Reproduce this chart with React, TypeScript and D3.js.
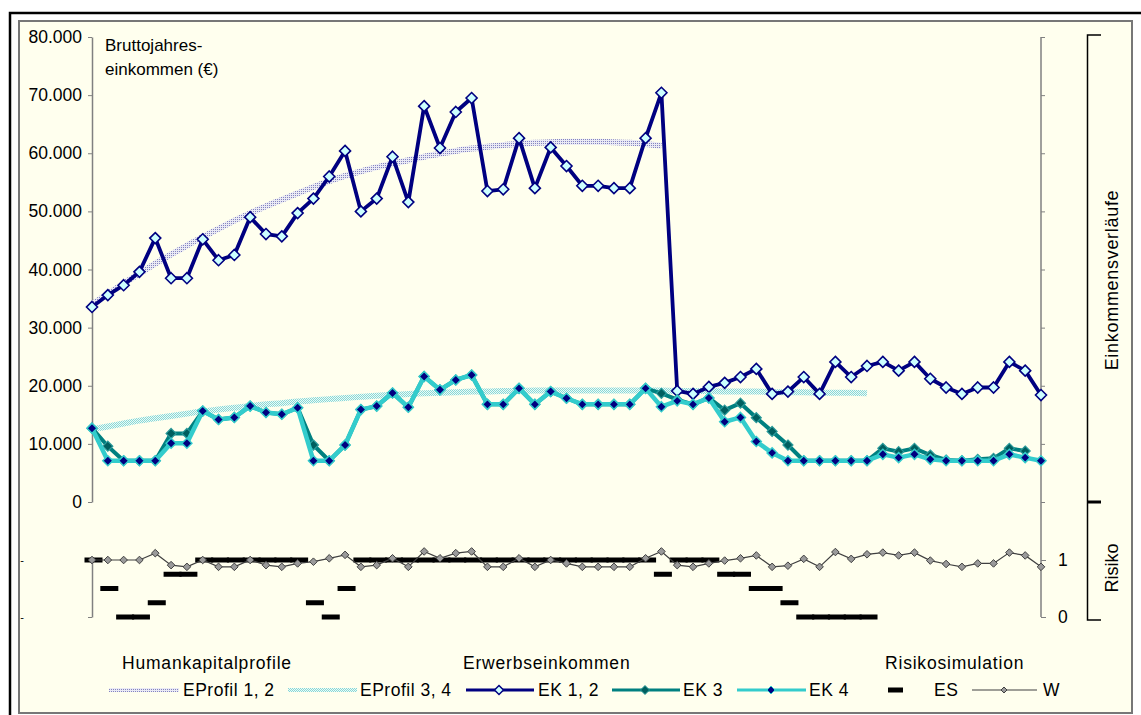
import React, { useEffect, useRef } from 'react';
import * as d3 from 'd3';

// years on the x axis
const years = d3.range(2000, 2061);

// Erwerbseinkommen (€)
const ek12 = [
  33550, 35600, 37300, 39600, 45400, 38500, 38500, 45200, 41600, 42500,
  49000, 46100, 45700, 49700, 52200, 56000, 60400, 50000, 52200, 59400,
  51600, 68100, 60900, 67100, 69500, 53500, 53800, 62600, 54000, 61000,
  57800, 54400, 54400, 54000, 54000, 62600, 70400, 19100, 18600, 19800,
  20500, 21500, 22900, 18600, 19000, 21500, 18600, 24100, 21500, 23400,
  24100, 22600, 24100, 21200, 19700, 18600, 19700, 19700, 24100, 22600,
  18400,
];
const ek3 = [
  12700, 9600, 7100, 7100, 7100, 11800, 11800, 15650, 14200, 14550,
  16500, 15400, 15100, 16200, 9800, 7100, 9800, 15900, 16500, 18750,
  16300, 21600, 19300, 21000, 21850, 16800, 16800, 19550, 16800, 19000,
  17850, 16800, 16800, 16800, 16800, 19550, 18700, 17600, 16800, 17900,
  15800, 17000, 14500, 12150, 9800, 7100, 7100, 7100, 7100, 7100,
  9230, 8660, 9230, 8090, 7230, 7100, 7340, 7510, 9230, 8770, null,
];
const ek4 = [
  12700, 7100, 7100, 7100, 7100, 10100, 10100, 15650, 14200, 14550,
  16500, 15400, 15100, 16200, 7100, 7100, 9800, 15900, 16500, 18750,
  16300, 21600, 19300, 21000, 21850, 16800, 16800, 19550, 16800, 19000,
  17850, 16800, 16800, 16800, 16800, 19550, 16400, 17400, 16800, 17900,
  13800, 14550, 10400, 8450, 7100, 7100, 7100, 7100, 7100, 7100,
  8200, 7630, 8200, 7340, 7100, 7100, 7100, 7100, 8200, 7630, 7100,
];

// Humankapitalprofile (€)
const eprofil12 = [
  34000, 35800, 37600, 39300, 41000, 42600, 44100, 45600, 47000, 48400,
  49700, 50900, 52000, 53100, 54200, 55200, 56100, 56900, 57600, 58200,
  58800, 59400, 59900, 60400, 60800, 61100, 61400, 61600, 61800, 61900,
  62000, 62000, 62000, 61900, 61800, 61600, 61300,
];
const eprofil34 = [
  12500, 13000, 13500, 14000, 14400, 14800, 15200, 15600, 15900, 16200,
  16500, 16800, 17000, 17300, 17500, 17700, 17900, 18100, 18300, 18400,
  18600, 18700, 18800, 18900, 19000, 19000, 19100, 19100, 19200, 19200,
  19200, 19200, 19200, 19200, 19200, 19200, 19200, 19100, 19100, 19100,
  19000, 19000, 19000, 18900, 18900, 18900, 18800, 18800, 18800, 18700,
];

// Risikosimulation
const esValues = [
  1, 0.5, 0, 0, 0.25, 0.75, 0.75, 1, 1, 1,
  1, 1, 1, 1, 0.25, 0, 0.5, 1, 1, 1,
  1, 1, 1, 1, 1, 1, 1, 1, 1, 1,
  1, 1, 1, 1, 1, 1, 0.75, 1, 1, 1,
  0.75, 0.75, 0.5, 0.5, 0.25, 0, 0, 0, 0, 0,
];
const wValues = [
  1.0, 1.0, 1.0, 1.0, 1.12, 0.91, 0.88, 1.0, 0.88, 0.88,
  1.0, 0.91, 0.88, 0.94, 0.97, 1.03, 1.09, 0.88, 0.91, 1.03,
  0.88, 1.15, 1.03, 1.12, 1.15, 0.88, 0.88, 1.03, 0.88, 1.0,
  0.94, 0.88, 0.88, 0.88, 0.88, 1.03, 1.15, 0.91, 0.88, 0.94,
  0.99, 1.03, 1.08, 0.88, 0.9, 1.02, 0.88, 1.14, 1.02, 1.1,
  1.13, 1.08, 1.13, 0.99, 0.93, 0.88, 0.94, 0.94, 1.13, 1.08, 0.88,
];

const incomeTicks = [0, 10000, 20000, 30000, 40000, 50000, 60000, 70000, 80000];
const yearTicks = d3.range(2000, 2061, 5);

const FONT = '"Liberation Sans", Arial, sans-serif';
const BG = '#FFFFEE';

const App: React.FC = () => {
  const svgRef = useRef<SVGSVGElement>(null);

  useEffect(() => {
    if (!svgRef.current) return;
    const svg = d3.select(svgRef.current);
    svg.selectAll('*').remove();
    svg.attr('font-family', FONT);

    const de = d3.formatLocale({ decimal: ',', thousands: '.', grouping: [3], currency: ['', ' €'] });
    const fmt = de.format(',');

    // scales
    const x = d3.scaleLinear().domain([2000, 2060]).range([92, 1041]);
    const y = d3.scaleLinear().domain([0, 80000]).range([502, 37]);
    const yr = d3.scaleLinear().domain([0, 1]).range([617, 560]);

    // patterns for the dotted profile bands
    const defs = svg.append('defs');
    const addPat = (id: string, c1: string, c2: string) => {
      const p = defs.append('pattern').attr('id', id).attr('width', 2).attr('height', 2)
        .attr('patternUnits', 'userSpaceOnUse');
      p.append('rect').attr('width', 2).attr('height', 2).attr('fill', c2);
      p.append('rect').attr('width', 1).attr('height', 1).attr('fill', c1);
      p.append('rect').attr('x', 1).attr('y', 1).attr('width', 1).attr('height', 1).attr('fill', c1);
    };
    addPat('pat12', '#8484c0', '#eaeaf4');
    addPat('pat34', '#86d8d8', '#eefaf4');

    // frame
    svg.append('rect').attr('x', 10).attr('y', 13).attr('width', 1140).attr('height', 710)
      .attr('fill', '#fff').attr('stroke', '#000').attr('stroke-width', 2.5);
    svg.append('rect').attr('x', 19).attr('y', 21).attr('width', 1113).attr('height', 692)
      .attr('fill', BG).attr('stroke', '#777').attr('stroke-width', 2);

    // left income axis
    const gl = svg.append('g').attr('transform', 'translate(92,0)')
      .call(d3.axisLeft(y).tickValues(incomeTicks).tickSize(4).tickSizeOuter(0).tickPadding(6)
        .tickFormat((d) => fmt(d as number)));
    gl.select('.domain').attr('stroke', '#808080').attr('stroke-width', 1.5);
    gl.selectAll('.tick line').attr('stroke', '#808080');
    gl.selectAll('.tick text').attr('font-size', 17.5).attr('fill', '#000').attr('font-family', FONT);

    // right income axis (no labels)
    const gri = svg.append('g').attr('transform', 'translate(1041,0)')
      .call(d3.axisRight(y).tickValues(incomeTicks).tickSize(4).tickSizeOuter(0).tickFormat(() => ''));
    gri.select('.domain').remove();
    gri.selectAll('.tick line').attr('stroke', '#808080');
    svg.append('line').attr('x1', 1041).attr('x2', 1041).attr('y1', y(80000)).attr('y2', yr(0))
      .attr('stroke', '#808080').attr('stroke-width', 1.5);

    // risk axes
    const grr = svg.append('g').attr('transform', 'translate(1041,0)')
      .call(d3.axisRight(yr).tickValues([0, 1]).tickSize(5).tickSizeOuter(0).tickPadding(12)
        .tickFormat((d) => String(d)));
    grr.select('.domain').remove();
    grr.selectAll('.tick line').attr('stroke', '#808080');
    grr.selectAll('.tick text').attr('font-size', 17.5).attr('fill', '#000').attr('font-family', FONT);

    const grl = svg.append('g').attr('transform', 'translate(92,0)')
      .call(d3.axisLeft(yr).tickValues([0, 1]).tickSize(4).tickSizeOuter(0).tickPadding(64)
        .tickFormat(() => '-'));
    grl.select('.domain').attr('stroke', '#808080').attr('stroke-width', 1.5);
    grl.selectAll('.tick line').attr('stroke', '#808080');
    grl.selectAll('.tick text').attr('font-size', 11).attr('fill', '#000').attr('font-family', FONT);

    // x axis
    const gx = svg.append('g').attr('transform', 'translate(0,502)')
      .call(d3.axisBottom(x).tickValues(yearTicks).tickSize(7).tickSizeOuter(0).tickPadding(13)
        .tickFormat((d) => ((d as number) % 10 === 0 ? String(d) : '')));
    gx.select('.domain').attr('stroke', '#000').attr('stroke-width', 1.5);
    gx.selectAll('.tick line').attr('stroke', '#000');
    gx.selectAll('.tick text').attr('font-size', 17.5).attr('fill', '#000').attr('font-family', FONT);
    gx.lower();
    svg.select('rect:nth-of-type(2)').lower();
    svg.select('rect').lower();

    // axis title
    const t = svg.append('text').attr('font-size', 17).attr('fill', '#000');
    t.append('tspan').attr('x', 105).attr('y', 51).text('Bruttojahres-');
    t.append('tspan').attr('x', 105).attr('y', 75).text('einkommen (€)');

    // profile bands
    const line = d3.line<number | null>()
      .defined((d) => d !== null)
      .x((_, i) => x(years[i]))
      .y((d) => y(d as number));
    const bandLine = d3.line<number>()
      .x((_, i) => x(years[i]))
      .y((d) => y(d))
      .curve(d3.curveMonotoneX);
    svg.append('path').datum(eprofil12).attr('d', bandLine).attr('fill', 'none')
      .attr('stroke', 'url(#pat12)').attr('stroke-width', 6);
    svg.append('path').datum(eprofil34).attr('d', bandLine).attr('fill', 'none')
      .attr('stroke', 'url(#pat34)').attr('stroke-width', 6);

    const diamond = (r: number) => `M0,${-r}L${r},0L0,${r}L${-r},0Z`;

    const drawSeries = (
      data: (number | null)[], color: string, width: number,
      mFill: string, mStroke: string, r: number, mw: number,
    ) => {
      svg.append('path').datum(data).attr('d', line).attr('fill', 'none')
        .attr('stroke', color).attr('stroke-width', width).attr('stroke-linejoin', 'round');
      svg.append('g').selectAll('path')
        .data(data.map((v, i) => ({ v, yr: years[i] })).filter((d) => d.v !== null))
        .join('path')
        .attr('transform', (d) => `translate(${x(d.yr)},${y(d.v as number)})`)
        .attr('d', diamond(r))
        .attr('fill', mFill).attr('stroke', mStroke).attr('stroke-width', mw);
    };
    drawSeries(ek12, '#000080', 3.8, '#ccffff', '#000080', 5.5, 1.6);
    drawSeries(ek3, '#008080', 4, '#005f5f', '#2a9a9a', 5, 1.2);
    drawSeries(ek4, '#33cccc', 4.5, '#000080', '#33cccc', 5, 1.5);

    // ES dashes
    svg.append('g').selectAll('rect')
      .data(esValues.map((v, i) => ({ v, yr: years[i] })))
      .join('rect')
      .attr('x', (d) => x(d.yr) - 7.5)
      .attr('width', 18)
      .attr('y', (d) => yr(d.v) - 2.5)
      .attr('height', 5)
      .attr('fill', '#000');

    // W line
    const wLine = d3.line<number>().x((_, i) => x(years[i])).y((d) => yr(d));
    svg.append('path').datum(wValues).attr('d', wLine).attr('fill', 'none')
      .attr('stroke', '#404040').attr('stroke-width', 1.2);
    svg.append('g').selectAll('path')
      .data(wValues.map((v, i) => ({ v, yr: years[i] })))
      .join('path')
      .attr('transform', (d) => `translate(${x(d.yr)},${yr(d.v)})`)
      .attr('d', diamond(3.8))
      .attr('fill', '#9a9a9a').attr('stroke', '#404040').attr('stroke-width', 1);

    // right brackets
    const br = svg.append('g').attr('stroke', '#000').attr('fill', 'none');
    br.append('path').attr('d', 'M1101,35H1087.5V620H1101').attr('stroke-width', 1.5);
    br.append('line').attr('x1', 1087).attr('x2', 1101).attr('y1', 502).attr('y2', 502).attr('stroke-width', 3);
    svg.append('text').attr('transform', 'translate(1118,280) rotate(-90)').attr('text-anchor', 'middle')
      .attr('font-size', 18).attr('letter-spacing', 0.7).text('Einkommensverläufe');
    svg.append('text').attr('transform', 'translate(1118,568) rotate(-90)').attr('text-anchor', 'middle')
      .attr('font-size', 18).text('Risiko');

    // legend
    const lg = svg.append('g').attr('font-size', 17.5).attr('fill', '#000');
    [
      { t: 'Humankapitalprofile', x: 122 },
      { t: 'Erwerbseinkommen', x: 463 },
      { t: 'Risikosimulation', x: 885 },
    ].forEach((d) => lg.append('text').attr('x', d.x).attr('y', 669).attr('letter-spacing', 0.8).text(d.t));

    const ly = 690;
    const sample = (x1: number, x2: number, stroke: string, w: number) =>
      lg.append('line').attr('x1', x1).attr('x2', x2).attr('y1', ly).attr('y2', ly)
        .attr('stroke', stroke).attr('stroke-width', w);
    const mark = (cx: number, r: number, fill: string, stroke: string, w: number) =>
      lg.append('path').attr('transform', `translate(${cx},${ly})`).attr('d', diamond(r))
        .attr('fill', fill).attr('stroke', stroke).attr('stroke-width', w);
    const label = (lx: number, s: string) =>
      lg.append('text').attr('x', lx).attr('y', ly + 6).attr('letter-spacing', 0.5).text(s);

    sample(109, 179, 'url(#pat12)', 4); label(183, 'EProfil 1, 2');
    sample(288, 357, 'url(#pat34)', 4); label(360, 'EProfil 3, 4');
    sample(466, 534, '#000080', 3); mark(499, 4.5, '#ccffff', '#000080', 1.5); label(538, 'EK 1, 2');
    sample(612, 680, '#008080', 3); mark(645, 4.5, '#005f5f', '#2a9a9a', 1); label(683, 'EK 3');
    sample(737, 806, '#33cccc', 3); mark(771, 4, '#000080', '#33cccc', 1); label(809, 'EK 4');
    lg.append('rect').attr('x', 888).attr('y', ly - 2.5).attr('width', 15).attr('height', 5).attr('fill', '#000');
    label(934, 'ES');
    sample(972, 1037, '#404040', 1.2); mark(1004, 3, '#9a9a9a', '#404040', 1); label(1043, 'W');
  }, []);

  return (
    <div style={{ position: 'absolute', left: 0, top: 0 }}>
      <svg ref={svgRef} width={1141} height={715} style={{ display: 'block' }} />
    </div>
  );
};

export default App;
